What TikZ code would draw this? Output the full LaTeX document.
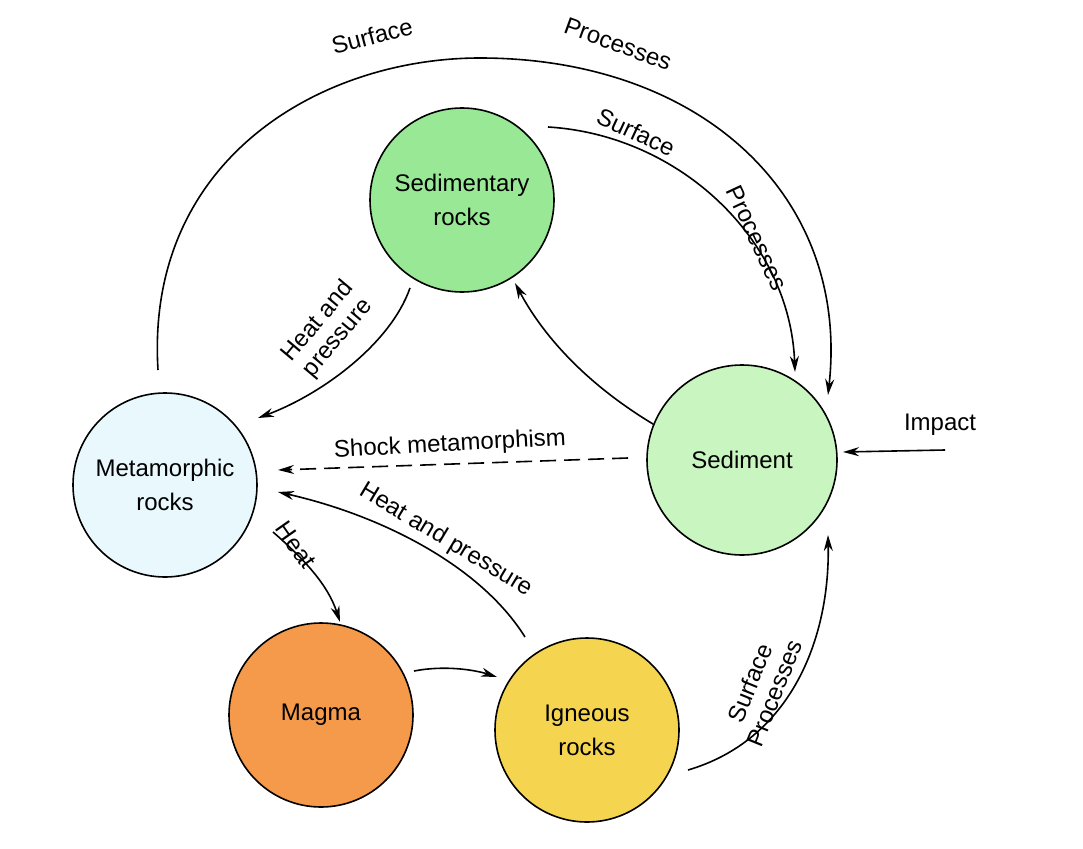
\documentclass[tikz,border=0pt]{standalone}
\usepackage{fontspec}
\setmainfont{Liberation Sans}
\usetikzlibrary{arrows.meta}
\begin{document}
\begin{tikzpicture}[x=1pt,y=-1pt,
 rock/.style={circle,draw,line width=1.6pt,minimum size=184pt,align=center,font=\fontsize{24}{34}\selectfont},
 con/.style={line width=1.6pt,-{Stealth[length=16pt,width=9pt]}},
 lab/.style={font=\fontsize{24}{26}\selectfont,align=center,inner sep=1pt}]
\useasboundingbox (0,0) rectangle (1083,848);
\fill[white] (0,0) rectangle (1083,848);
\node[rock,fill={rgb,255:red,152;green,232;blue,150}] (sr) at (462,200) {Sedimentary\\rocks};
\node[rock,fill={rgb,255:red,232;green,248;blue,252}] (mr) at (165,485) {Metamorphic\\rocks};
\node[rock,fill={rgb,255:red,200;green,245;blue,192},minimum size=190pt] (sd) at (742,460) {Sediment};
\node[rock,fill={rgb,255:red,245;green,153;blue,74}] (mg) at (321,715) {Magma};
\node[rock,fill={rgb,255:red,245;green,213;blue,80}] (ig) at (587,730) {Igneous\\rocks};
\coordinate (imp) at (945,450);
% outer arc
\draw[con] (158,370) .. controls (145,160) and (320,58) .. (480,58) .. controls (700,58) and (850,195) .. (828,395);
\node[lab,rotate=15] at (372,36) {Surface};
\node[lab,rotate=-20] at (618,44) {Processes};
% inner arc
\draw[con] (548,127) .. controls (680,135) and (790,240) .. (795,372);
\node[lab,rotate=-25] at (636,132) {Surface};
\node[lab,rotate=-65] at (757,238) {Processes};
\draw[con] (sd.158) .. controls (580,380) and (540,330) .. (515,283);
\draw[con] (410,288) .. controls (390,345) and (320,395) .. (258,418);
\node[lab,rotate=50] at (328,330) {Heat and\\pressure};
\draw[con,dash pattern=on 16pt off 8pt] (628,458) -- (278,470);
\node[lab,rotate=3] at (450,445) {Shock metamorphism};
\draw[con] (525,637) .. controls (480,565) and (380,515) .. (278,492);
\node[lab,rotate=-31] at (446,540) {Heat and pressure};
\draw[con] (273,532) .. controls (305,560) and (328,585) .. (340,622);
\node[lab,rotate=-55] at (296,545) {Heat};
\draw[con] (688,770) .. controls (790,740) and (830,640) .. (828,535);
\draw[con] (414,671) .. controls (445,665) and (475,670) .. (497,677);
\node[lab,rotate=68] at (762,688) {Surface\\Processes};
\draw[con] (imp) -- (843,452);
\node[lab] at (940,425) {Impact};
\end{tikzpicture}
\end{document}
